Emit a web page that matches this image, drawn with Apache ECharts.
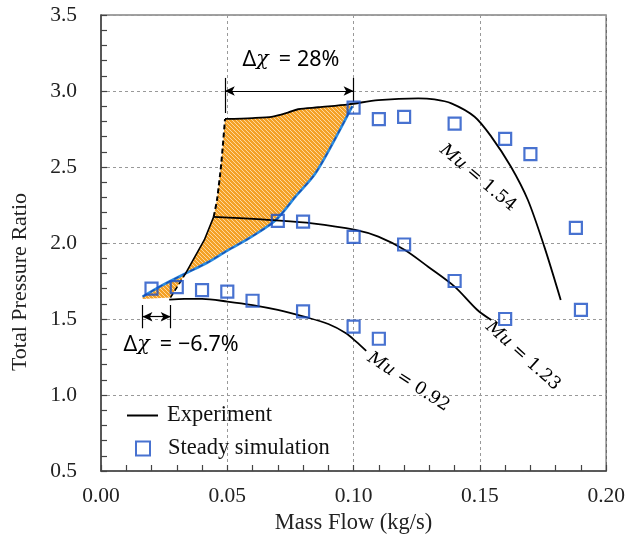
<!DOCTYPE html>
<html><head><meta charset="utf-8">
<script src="https://cdn.jsdelivr.net/npm/echarts@6/dist/echarts.min.js"></script>
<style>html,body{margin:0;padding:0;background:#fff}#c{width:628px;height:541px}</style>
</head><body><div id="c"></div>
<script>
// ---------- data ----------
const xTicks = [0.00, 0.05, 0.10, 0.15, 0.20];
const yTicks = [0.5, 1.0, 1.5, 2.0, 2.5, 3.0, 3.5];

// Experiment speed lines
const mu092Exp = [[0.027,1.627],[0.033,1.632],[0.040,1.632],[0.050,1.615],[0.060,1.592],[0.070,1.560],[0.080,1.517],[0.090,1.467],[0.097,1.406],[0.101,1.351],[0.105,1.290]];
const mu123Exp = [[0.0446,2.172],[0.055,2.163],[0.068,2.150],[0.0836,2.129],[0.1007,2.086],[0.1098,2.042],[0.1203,1.954],[0.1295,1.844],[0.140,1.713],[0.149,1.559],[0.1545,1.493]];
const mu154Exp = [[0.0491,2.816],[0.060,2.822],[0.068,2.832],[0.074,2.858],[0.078,2.880],[0.086,2.893],[0.098,2.912],[0.1098,2.940],[0.1256,2.952],[0.1320,2.945],[0.1387,2.919],[0.1479,2.831],[0.1545,2.700],[0.1623,2.502],[0.169,2.283],[0.1755,1.976],[0.182,1.625]];

// Steady simulation points
const sim092 = [[0.02,1.70],[0.03,1.71],[0.04,1.69],[0.05,1.68],[0.06,1.62],[0.08,1.55],[0.10,1.45],[0.11,1.37]];
const sim123 = [[0.07,2.145],[0.08,2.14],[0.10,2.04],[0.12,1.99],[0.14,1.75],[0.16,1.50]];
const sim154 = [[0.10,2.89],[0.11,2.815],[0.12,2.83],[0.14,2.785],[0.16,2.685],[0.17,2.585],[0.188,2.10],[0.19,1.56]];

// Surge lines
const surgeExpLow  = [[0.0275,1.641],[0.0335,1.800]];
const surgeExpMid  = [[0.0335,1.800],[0.0409,2.020],[0.0446,2.172]];
const surgeExpHigh = [[0.0446,2.172],[0.0459,2.280],[0.0476,2.520],[0.0491,2.816]];
const surgeSim = [[0.0165,1.647],[0.0245,1.724],[0.0335,1.800],[0.042,1.870],[0.050,1.950],[0.0595,2.040],[0.0692,2.151],[0.077,2.305],[0.0849,2.459],[0.0928,2.689],[0.0995,2.900]];
const lowerCorner = [[0.0163,1.632]];

// Annotations
const chi28 = {from:0.049, to:0.10, y:3.0, barLeft:[2.855,3.086], barRight:[2.93,3.086], text:[0.0752,3.204]};
const chi67 = {from:0.0164, to:0.0276, y:1.515, bar:[1.439,1.592], text:[0.0317,1.329]};
const muLabels = [
  {name:'1.54', pos:[0.1492,2.428], angle:-40},
  {name:'1.23', pos:[0.1670,1.257], angle:-42},
  {name:'0.92', pos:[0.1217,1.086], angle:-33}
];

// ---------- build ----------
const crossIdx = surgeSim.findIndex(p => p[0] === 0.0335);
const topEdge = mu154Exp.filter(p => p[0] > 0.0491 && p[0] < 0.0995);
const shadeUpper = [].concat(surgeExpMid, surgeExpHigh.slice(1), topEdge, surgeSim.slice(crossIdx + 1).reverse());
const shadeLower = [].concat(lowerCorner, surgeSim.slice(0, crossIdx + 1), surgeExpLow.slice(0,1));
const shadePolys = [shadeUpper, shadeLower];

function hatch(){
  const c=document.createElement('canvas'); c.width=4; c.height=4;
  const g=c.getContext('2d');
  g.fillStyle='#f4a126'; g.fillRect(0,0,4,4);
  g.strokeStyle='rgba(255,226,180,0.95)'; g.lineWidth=0.9;
  g.beginPath(); g.moveTo(-1,-1); g.lineTo(5,5); g.moveTo(-1,3); g.lineTo(1,5); g.moveTo(3,-1); g.lineTo(5,1); g.stroke();
  return c;
}
const hatchCanvas = hatch();

const serif = 'Liberation Serif';
const BLUE = '#1a4fc4';
const expLine = {color:'#000', width:1.8};

function expSeries(d){ return {type:'line', name:'Experiment', data:d, symbol:'none', smooth:0.3, lineStyle:expLine, itemStyle:{color:'#000'}, z:4, silent:true}; }
function simSeries(d){ return {type:'scatter', name:'Steady simulation', data:d, symbol:'rect', symbolSize:12, itemStyle:{color:'rgba(0,0,0,0)', borderColor:BLUE, borderWidth:2.2}, z:6, silent:true}; }

const chart = echarts.init(document.getElementById('c'), null, {renderer:'canvas'});
const option = {
  animation:false,
  backgroundColor:'#fff',
  grid:{left:101, right:19, top:15, bottom:70, show:true, borderColor:'#444', borderWidth:1.2, backgroundColor:'transparent'},
  xAxis:{type:'value', min:0, max:0.2, interval:0.05,
    name:'Mass Flow (kg/s)', nameLocation:'middle', nameGap:41,
    nameTextStyle:{fontFamily:serif, fontSize:22.5, color:'#222'},
    axisLine:{show:true, lineStyle:{color:'#444', width:1.5}},
    axisTick:{show:true, inside:true, length:6, lineStyle:{color:'#444', width:1.2}},
    minorTick:{show:true, splitNumber:5, length:6, lineStyle:{color:'#444', width:1.2}},
    splitLine:{show:true, lineStyle:{color:'#999', type:[3,3], width:1}},
    axisLabel:{fontFamily:serif, fontSize:21.5, color:'#222', margin:14, formatter:v=>v.toFixed(2)}},
  yAxis:{type:'value', min:0.5, max:3.5, interval:0.5,
    axisLine:{show:true, lineStyle:{color:'#444', width:1.5}},
    axisTick:{show:true, inside:true, length:6, lineStyle:{color:'#444', width:1.2}},
    minorTick:{show:true, splitNumber:5, length:6, lineStyle:{color:'#444', width:1.2}},
    splitLine:{show:true, lineStyle:{color:'#999', type:[3,3], width:1}},
    axisLabel:{fontFamily:serif, fontSize:21.5, color:'#222', margin:24, formatter:v=>v.toFixed(1)}},
  legend:[
    {data:[{name:'Experiment', icon:'rect'}], left:127, top:404, itemWidth:31, itemHeight:2, padding:0,
     textStyle:{fontFamily:serif, fontSize:22.5, color:'#111', padding:[0,0,0,4]}, selectedMode:false},
    {data:['Steady simulation'], left:135, top:437, itemWidth:14, itemHeight:14, padding:0,
     textStyle:{fontFamily:serif, fontSize:22.5, color:'#111', padding:[0,0,0,13]}, selectedMode:false}
  ],
  series:[
    {type:'custom', name:'shade', silent:true, z:1, clip:true,
     data:[[0.07,2.5],[0.02,1.66]], encode:{x:0,y:1},
     renderItem:(params, api)=>{
       const pts = shadePolys[params.dataIndex].map(p=>api.coord(p));
       return {type:'polygon', shape:{points:pts}, style:{fill:{image:hatchCanvas, repeat:'repeat'}, stroke:null}};
     }},
    {type:'line', name:'simSurge', data:surgeSim, symbol:'none', smooth:0.3, lineStyle:{color:'#2a8be0', width:2.6}, z:3, silent:true},
    {type:'line', name:'simSurge2', data:surgeSim, symbol:'none', smooth:0.3, lineStyle:{color:'#1a4fb0', width:1.4, type:[5,4]}, z:3, silent:true},
    {type:'line', name:'expSurgeLow', data:surgeExpLow, symbol:'none', lineStyle:{color:'#000', width:1.6, type:[5,3]}, z:4, silent:true},
    {type:'line', name:'expSurgeMid', data:surgeExpMid, symbol:'none', lineStyle:{color:'#000', width:1.6}, z:4, silent:true},
    {type:'line', name:'expSurgeHigh', data:surgeExpHigh, symbol:'none', smooth:0.2, lineStyle:{color:'#000', width:2, type:[5,3]}, z:4, silent:true},
    expSeries(mu092Exp), expSeries(mu123Exp), expSeries(mu154Exp),
    simSeries(sim092), simSeries(sim123), simSeries(sim154),
    {type:'line', name:'arrows', data:[], z:5, silent:true,
     markLine:{silent:true, animation:false, symbol:['arrow','arrow'], symbolSize:[7,10], label:{show:false},
       lineStyle:{color:'#000', width:1.2, type:'solid'},
       data:[
         [{coord:[chi28.from, chi28.y]},{coord:[chi28.to, chi28.y]}],
         [{coord:[chi67.from, chi67.y]},{coord:[chi67.to, chi67.y]}]
       ]}},
    {type:'line', name:'bars', data:[], z:5, silent:true,
     markLine:{silent:true, animation:false, symbol:['none','none'], label:{show:false},
       lineStyle:{color:'#000', width:1.2, type:'solid'},
       data:[
         [{coord:[chi28.from, chi28.barLeft[0]]},{coord:[chi28.from, chi28.barLeft[1]]}],
         [{coord:[chi28.to, chi28.barRight[0]]},{coord:[chi28.to, chi28.barRight[1]]}],
         [{coord:[chi67.from, chi67.bar[0]]},{coord:[chi67.from, chi67.bar[1]]}],
         [{coord:[chi67.to, chi67.bar[0]]},{coord:[chi67.to, chi67.bar[1]]}]
       ]}}
  ]
};
chart.setOption(option);

function px(p){ return chart.convertToPixel({gridIndex:0}, p); }
const g = [];
const annRich = {n:{fontFamily:'Noto Sans', fontSize:21.5, color:'#111'}, i:{fontFamily:'DejaVu Serif', fontStyle:'italic', fontSize:20.5, color:'#111'}, e:{fontFamily:'Noto Sans', fontSize:21.5, color:'#111', padding:[0,6,0,10]}};
[[chi28.text,'28%'],[chi67.text,'\u22126.7%']].forEach(([pos,val])=>{
  const p = px(pos);
  g.push({type:'text', x:p[0], y:p[1], z:10, style:{text:'{n|\u0394}{i|\u03c7}{e|=}{n|'+val+'}', rich:annRich, align:'center', verticalAlign:'middle'}});
});
const muRich = {m:{fontFamily:'DejaVu Serif', fontStyle:'italic', fontSize:17.5, color:'#111'}, r:{fontFamily:'DejaVu Serif', fontSize:17.5, color:'#111'}};
muLabels.forEach(l=>{
  const p = px(l.pos);
  g.push({type:'text', x:p[0], y:p[1], rotation:l.angle*Math.PI/180, z:10, style:{text:'{m|Mu}{r| = '+l.name+'}', rich:muRich, align:'center', verticalAlign:'middle'}});
});
g.push({type:'text', x:20, y:282, rotation:Math.PI/2, z:10, style:{text:'Total Pressure Ratio', font:'22px "Liberation Serif"', fill:'#222', align:'center', verticalAlign:'middle'}});
chart.setOption({graphic:g});
</script></body></html>
